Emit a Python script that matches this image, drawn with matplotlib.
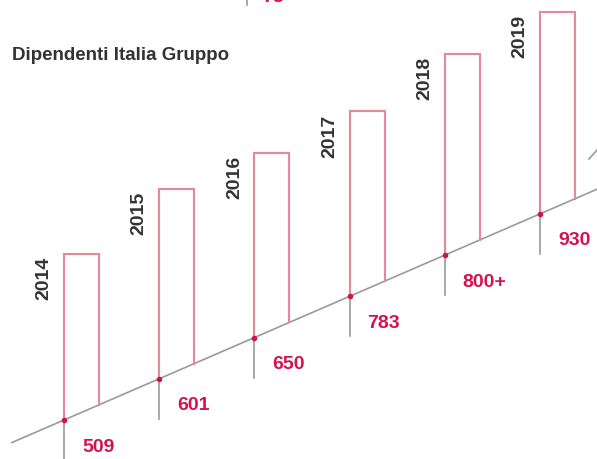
import matplotlib.pyplot as plt

# ===============================
# Data
# ===============================
years = ['2014', '2015', '2016', '2017', '2018', '2019']
value_labels = ['509', '601', '650', '783', '800+', '930']
bar_heights = [166, 190, 185, 185, 201, 202]   # column height above the baseline, px
title = 'Dipendenti Italia Gruppo'

# ===============================
# Layout / style
# ===============================
W, H = 597, 459
x0, y0 = 64, 420          # first dot on the baseline
step = 95.2               # horizontal spacing between years
slope = 0.433             # baseline rise per px
bar_w = 35
tick_len = 40

pink = '#e6879b'
red = '#d3124f'
gray = '#9a9a9a'
dark = '#333333'
font = 'Liberation Sans'


def base_y(x):
    return y0 - slope * (x - x0)


fig = plt.figure(figsize=(W / 100, H / 100), dpi=100)
ax = fig.add_axes([0, 0, 1, 1])
ax.set_xlim(0, W)
ax.set_ylim(H, 0)
ax.axis('off')

# diagonal baseline
ax.plot([12, W], [base_y(12), base_y(W)], color=gray, lw=1.2, zorder=1)
# piece of the next line at the right edge
ax.plot([589, W], [159, 150], color=gray, lw=1.2)

# title
ax.text(12, 56, title, fontsize=13.5, fontweight='bold', color=dark,
        family=font, ha='left', va='center')

# bit of the chart above, cut by the edge
ax.plot([247, 247], [0, 5], color=gray, lw=1.2)
ax.text(262, -3, '78', fontsize=14, fontweight='bold', color=red,
        family=font, ha='left', va='center')

for i, (yr, lab, h) in enumerate(zip(years, value_labels, bar_heights)):
    x = x0 + step * i
    yb = base_y(x)
    top = yb - h
    xr = x + bar_w
    # open column: left side, top, right side down to the baseline
    ax.plot([x, x, xr, xr], [yb, top, top, base_y(xr)], color=pink, lw=1.5,
            solid_joinstyle='miter', zorder=2)
    # gray tick below the dot
    ax.plot([x, x], [yb, yb + tick_len], color=gray, lw=1.2, zorder=1)
    ax.plot(x, yb, 'o', color=red, ms=3, zorder=3)
    # value
    ax.text(x + 18, yb + 27, lab, fontsize=14, fontweight='bold', color=red,
            family=font, ha='left', va='center')
    # year
    ax.text(x - 20, top + 3, yr, fontsize=14, fontweight='bold', color=dark,
            family=font, rotation=90, ha='center', va='top')

fig.savefig('out.png', dpi=100)
